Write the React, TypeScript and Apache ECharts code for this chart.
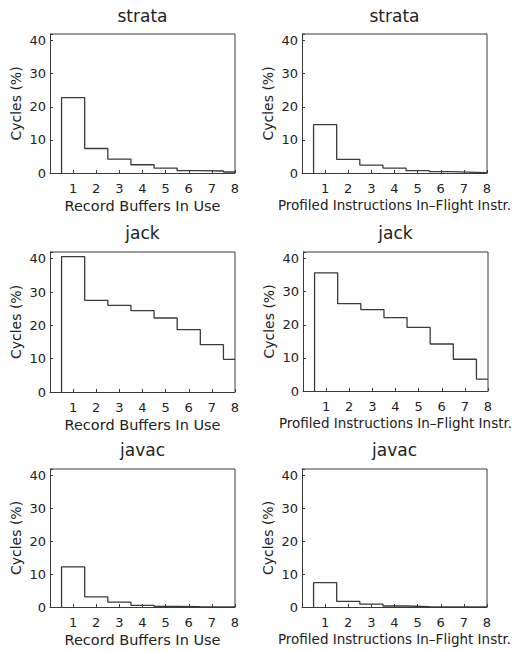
import React, { useEffect, useRef } from "react";
import * as echarts from "echarts";

const bins = [1, 2, 3, 4, 5, 6, 7, 8];
const yTicks = [0, 10, 20, 30, 40];
const titles = ["strata", "strata", "jack", "jack", "javac", "javac"];
const xNames = [
  "Record Buffers In Use",
  "Profiled Instructions In–Flight Instr.",
];
const yName = "Cycles (%)";

const strataBuffers = [22.8, 7.4, 4.2, 2.5, 1.5, 0.7, 0.6, 0.3];
const strataInflight = [14.6, 4.1, 2.4, 1.5, 0.7, 0.4, 0.2, 0.1];
const jackBuffers = [40.6, 27.5, 26.0, 24.4, 22.2, 18.7, 14.2, 9.8];
const jackInflight = [35.7, 26.4, 24.6, 22.2, 19.2, 14.2, 9.6, 3.6];
const javacBuffers = [12.2, 3.1, 1.5, 0.5, 0.2, 0.1, 0.05, 0.0];
const javacInflight = [7.4, 1.7, 0.9, 0.3, 0.1, 0.05, 0.0, 0.0];

const panelData = [
  strataBuffers,
  strataInflight,
  jackBuffers,
  jackInflight,
  javacBuffers,
  javacInflight,
];

const FONT = "DejaVu Sans";
const LINE = "#3a3a3a";
const TEXT = "#222";

const layout = [
  { left: 50, top: 34, width: 185, height: 139 },
  { left: 302, top: 34, width: 185, height: 139 },
  { left: 50, top: 252, width: 185, height: 140 },
  { left: 303, top: 252, width: 185, height: 139 },
  { left: 50, top: 469, width: 185, height: 138 },
  { left: 302, top: 469, width: 185, height: 138 },
];
const titleY = [16, 16, 233, 233, 450, 450];

export default function App() {
  const ref = useRef<HTMLDivElement>(null);
  useEffect(() => {
    if (!ref.current) return;
    const chart = echarts.init(ref.current, null, { renderer: "svg" });
    const grid: any[] = [];
    const xAxis: any[] = [];
    const yAxis: any[] = [];
    const series: any[] = [];
    const graphic: any[] = [];
    const X_MAX = bins[bins.length - 1];
    const Y_MAX = 42;
    layout.forEach((g, i) => {
      grid.push({ ...g, show: false, containLabel: false, outerBoundsMode: "none" });
      xAxis.push({
        type: "value",
        gridIndex: i,
        position: "bottom",
        min: 0,
        max: X_MAX,
        interval: 1,
        axisLine: { show: true, onZero: false, lineStyle: { color: LINE, width: 1 } },
        axisTick: { show: true, inside: true, length: 3, lineStyle: { color: LINE, width: 1 } },
        splitLine: { show: false },
        axisLabel: {
          margin: 9,
          fontSize: 13,
          fontFamily: FONT,
          color: TEXT,
          formatter: (v: number) => (bins.includes(v) ? String(v) : ""),
        },
        name: xNames[i % 2],
        nameLocation: "middle",
        nameGap: 25,
        nameTextStyle: { fontSize: i % 2 ? 13.5 : 14.5, fontFamily: FONT, color: TEXT },
      });
      yAxis.push({
        type: "value",
        gridIndex: i,
        position: "left",
        min: 0,
        max: Y_MAX,
        interval: 10,
        axisLine: { show: true, onZero: false, lineStyle: { color: LINE, width: 1 } },
        axisTick: { show: true, inside: true, length: 3, lineStyle: { color: LINE, width: 1 } },
        splitLine: { show: false },
        axisLabel: {
          margin: 4,
          fontSize: 13,
          fontFamily: FONT,
          color: TEXT,
          formatter: (v: number) => (yTicks.includes(v) ? String(v) : ""),
        },
        name: yName,
        nameLocation: "middle",
        nameGap: 27,
        nameTextStyle: { fontSize: 14, fontFamily: FONT, color: TEXT },
      });
      const vals = panelData[i];
      const pts: number[][] = [[bins[0] - 0.5, 0]];
      bins.forEach((b, k) => pts.push([b - 0.5, vals[k]]));
      pts.push([X_MAX, vals[vals.length - 1]]);
      series.push({
        type: "line",
        xAxisIndex: i,
        yAxisIndex: i,
        step: "end",
        symbol: "none",
        showSymbol: false,
        clip: true,
        lineStyle: { color: LINE, width: 1.3 },
        data: pts,
      });
      // top and right edges of the axes box, at the axes' extents
      series.push({
        type: "line",
        xAxisIndex: i,
        yAxisIndex: i,
        symbol: "none",
        showSymbol: false,
        silent: true,
        clip: false,
        lineStyle: { color: LINE, width: 1 },
        data: [
          [0, Y_MAX],
          [X_MAX, Y_MAX],
          [X_MAX, 0],
        ],
      });
      graphic.push({
        type: "text",
        x: g.left + g.width / 2,
        y: titleY[i],
        style: {
          text: titles[i],
          fontSize: 17,
          fontFamily: FONT,
          fill: TEXT,
          align: "center",
          verticalAlign: "middle",
        },
      });
    });
    chart.setOption({
      animation: false,
      backgroundColor: "#fff",
      grid,
      xAxis,
      yAxis,
      series,
      graphic,
    });
    return () => chart.dispose();
  }, []);
  return (
    <div
      ref={ref}
      style={{ position: "absolute", left: 0, top: 0, width: 519, height: 651 }}
    />
  );
}
